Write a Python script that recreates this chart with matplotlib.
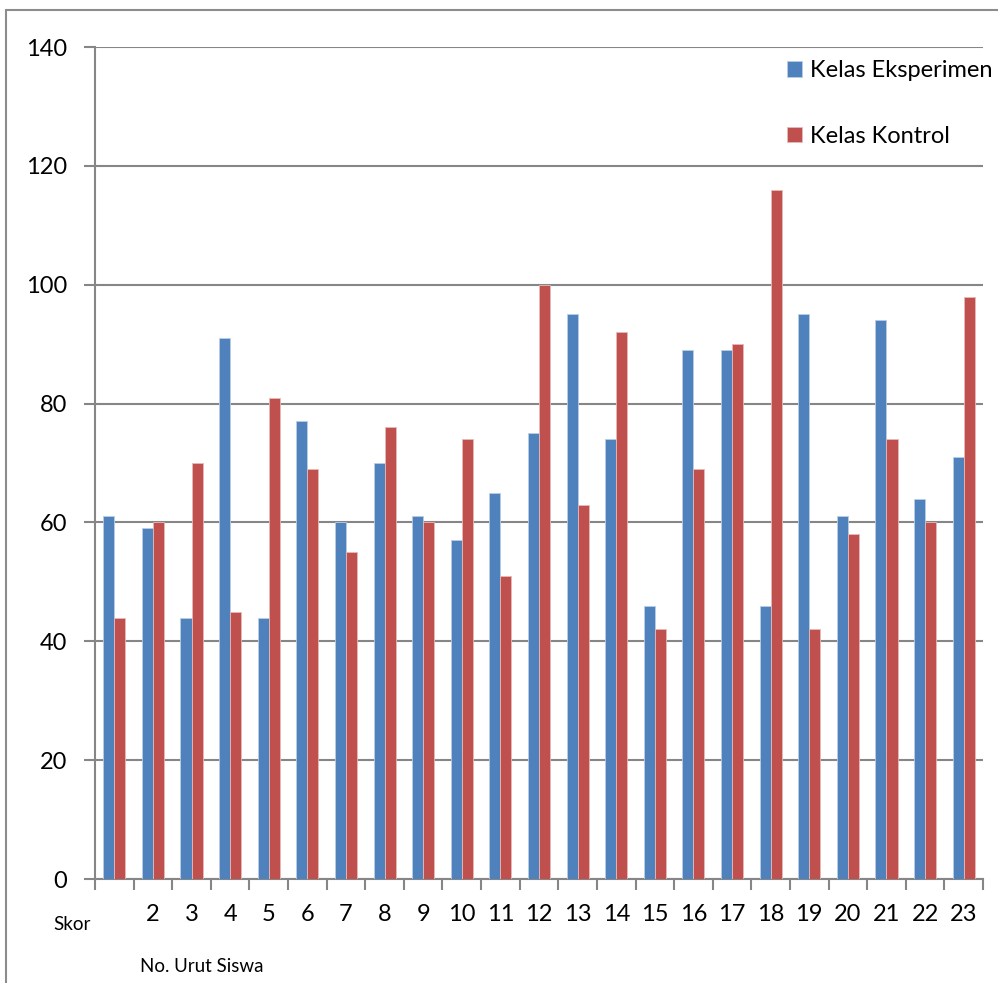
import matplotlib
matplotlib.use("Agg")
import matplotlib.pyplot as plt
import numpy as np
from matplotlib.patches import Rectangle

students = list(range(1, 24))
tick_labels = [""] + [str(i) for i in range(2, 24)]
eksperimen = [61, 59, 44, 91, 44, 77, 60, 70, 61, 57, 65, 75, 95, 74, 46, 89, 89, 46, 95, 61, 94, 64, 71]
kontrol = [44, 60, 70, 45, 81, 69, 55, 76, 60, 74, 51, 100, 63, 92, 42, 69, 90, 116, 42, 58, 74, 60, 98]
series_names = ["Kelas Eksperimen", "Kelas Kontrol"]
yticks = [0, 20, 40, 60, 80, 100, 120, 140]

plt.rcParams['font.family'] = ['Lato', 'DejaVu Sans']

W, H = 998, 983
fig = plt.figure(figsize=(W / 100, H / 100), dpi=100)
ax = fig.add_axes([95 / W, 1 - 879 / H, (983 - 95) / W, (879 - 47) / H])

grid_c = "#868686"
x = np.arange(len(students))
bw = 0.286
ax.bar(x - bw / 2, eksperimen, bw, color="#4F81BD", edgecolor="#B9CDE5", linewidth=0.6,
       label=series_names[0], zorder=3)
ax.bar(x + bw / 2, kontrol, bw, color="#C0504D", edgecolor="#E6B9B8", linewidth=0.6,
       label=series_names[1], zorder=3)

ax.set_xlim(-0.5, len(students) - 0.5)
ax.set_ylim(0, 140)
ax.set_yticks(yticks)
ax.set_yticklabels([str(v) for v in yticks], fontsize=17)
ax.yaxis.grid(True, color=grid_c, linewidth=1.5, zorder=0)
ax.set_axisbelow(True)

ax.set_xticks(x)
ax.set_xticklabels(tick_labels, fontsize=17)
ax.set_xticks(np.arange(-0.5, len(students) + 0.5, 1), minor=True)
ax.tick_params(axis='x', which='major', length=0, pad=18)
ax.tick_params(axis='x', which='minor', length=8, width=1.5, color=grid_c)
ax.tick_params(axis='y', length=8, width=1.5, color=grid_c, pad=12)

for s in ["top", "right"]:
    ax.spines[s].set_visible(False)
for s in ["left", "bottom"]:
    ax.spines[s].set_color(grid_c)
    ax.spines[s].set_linewidth(1.5)

leg = fig.legend(loc="upper left", bbox_to_anchor=(787 / W, 1 - 60 / H), frameon=False,
                 fontsize=17, handlelength=0.64, handleheight=0.64, handletextpad=0.34,
                 labelspacing=1.9, borderaxespad=0, borderpad=0)

fig.text(53 / W, 1 - 925 / H, "Skor", fontsize=13.5, ha="left", va="center")
fig.text(140 / W, 1 - 967 / H, "No. Urut Siswa", fontsize=13.5, ha="left", va="center")

# outer chart frame
fig.add_artist(Rectangle((6 / W, -0.05), 1.1, 1 - 10 / H + 0.05, transform=fig.transFigure,
                         fill=False, edgecolor="#8C8C8C", linewidth=1.5))

fig.savefig("out.png", dpi=100)
